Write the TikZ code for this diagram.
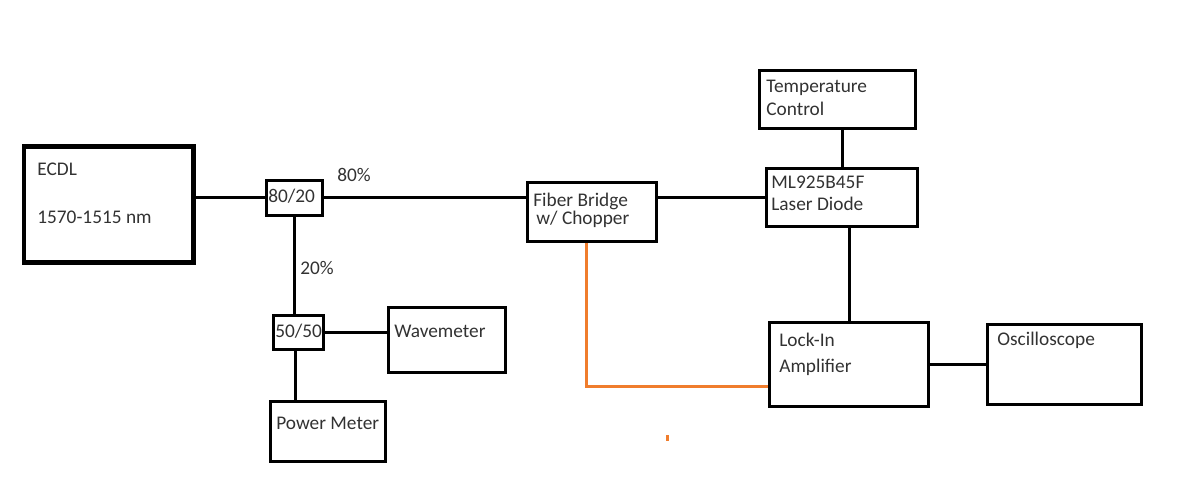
\documentclass[tikz,border=0pt]{standalone}
\usepackage{fontspec}
\setmainfont{Carlito}
\usepackage{xcolor}
\usepackage{tikz}
\usetikzlibrary{calc}
\definecolor{txtgray}{RGB}{50,50,50}
\definecolor{fiberorange}{RGB}{240,125,45}
\tikzset{box/.style={draw,line width=0.06cm,inner sep=0pt},
boxwh/.style 2 args={minimum width=#1*0.02cm,minimum height=#2*0.02cm},
txt/.style={anchor=base west,inner sep=0pt,text=txtgray},
link/.style={line width=0.06cm},
sig/.style={line width=0.06cm,draw=fiberorange}}

\begin{document}
\begin{tikzpicture}[x=0.02cm,y=-0.02cm,font=\fontsize{11}{13}\selectfont]
\useasboundingbox (0,0) rectangle (1183,494);
\node[box,boxwh={169}{116},line width=0.1cm](ecdl)at(108.5,204){};
\node[box,boxwh={56}{35}](split)at(294,197.5){};
\node[box,boxwh={50}{34}](half)at(298,332){};
\node[box,boxwh={117}{65}](wave)at(447,340){};
\node[box,boxwh={115}{60}](power)at(328,431.5){};
\node[box,boxwh={129}{59}](bridge)at(592,212){};
\node[box,boxwh={156}{58}](temp)at(837.5,99.5){};
\node[box,boxwh={151}{58}](diode)at(842,197.5){};
\node[box,boxwh={159}{84}](lockin)at(849,364.5){};
\node[box,boxwh={154}{80}](scope)at(1064.5,364.5){};
\node[txt](ecdlname)at(37,175){ECDL};
\node[txt](ecdlrange)at(37,223){1570-1515 nm};
\node[txt](splittxt)at(268,202){80/20};
\node[txt](halftxt)at(275,337){50/50};
\node[txt](wavetxt)at(394,337){Wavemeter};
\node[txt](powertxt)at(276,429){Power Meter};
\node[txt](tempa)at(766,92){Temperature};
\node[txt](tempb)at(766,115){Control};
\node[txt](bridgea)at(533,206){Fiber Bridge};
\node[txt](bridgeb)at(536,224){w/ Chopper};
\node[txt](diodea)at(771,188){ML925B45F};
\node[txt](diodeb)at(771,210){Laser Diode};
\node[txt](lockina)at(779,346){Lock-In};
\node[txt](lockinb)at(779,372){Amplifier};
\node[txt](scopetxt)at(997,345){Oscilloscope};
\node[txt](pcteighty)at(337,181){80\%};
\node[txt](pcttwenty)at(300,274){20\%};
\draw[link](split.west)--(split.west-|ecdl.east);
\draw[link](split.east)--(split.east-|bridge.west);
\draw[link](diode.west)--(diode.west-|bridge.east);
\draw[link](diode.north)--(diode.north|-temp.south);
\draw[link](lockin.north)--(lockin.north|-diode.south);
\draw[link](split.south)--(split.south|-half.north);
\draw[link](half.east)--(half.east-|wave.west);
\draw[link]([xshift=-0.06cm]half.south)--([xshift=-0.06cm]half.south|-power.north);
\draw[link](lockin.east)--(scope.west);
\draw[sig]([xshift=-0.12cm]bridge.south)|-([yshift=-0.43cm]lockin.west);
\draw[sig](667,435)--(667,441);
\end{tikzpicture}
\end{document}
